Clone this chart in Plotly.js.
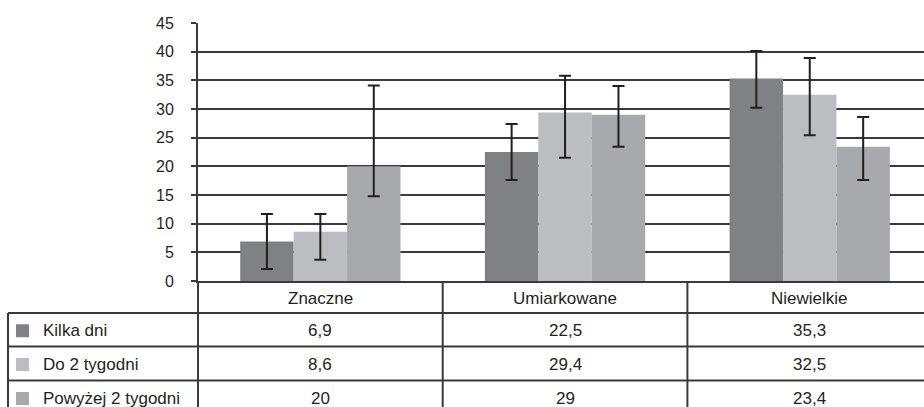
<!DOCTYPE html>
<html><head><meta charset="utf-8">
<script src="https://cdn.plot.ly/plotly-3.0.1.min.js"></script>
<style>html,body{margin:0;padding:0;overflow:hidden;background:#fff}</style>
</head><body><div id="chart" style="width:924px;height:407px"></div>
<script>
// ---- data ----
const categories = ['Znaczne', 'Umiarkowane', 'Niewielkie'];
const seriesNames = ['Kilka dni', 'Do 2 tygodni', 'Powyżej 2 tygodni'];
const kilkaDni = [6.9, 22.5, 35.3];
const do2Tygodni = [8.6, 29.4, 32.5];
const powyzej2Tygodni = [20, 29, 23.4];
const kilkaDniErrPlus = [4.8, 4.9, 4.8];
const kilkaDniErrMinus = [4.8, 4.9, 5.1];
const do2TygodniErrPlus = [3.1, 6.4, 6.4];
const do2TygodniErrMinus = [4.9, 7.9, 7.1];
const powyzejErrPlus = [14.1, 5.0, 5.2];
const powyzejErrMinus = [5.2, 5.6, 5.8];
const yTicks = [0, 5, 10, 15, 20, 25, 30, 35, 40, 45];

// ---- style ----
const colors = ['#808184', '#bcbdc0', '#a7a9ac'];
const lineCol = '#3a3a3a';
const errCol = '#231f20';
const FONT = '"Liberation Sans", Arial, sans-serif';
const W = 924, H = 407, ML = 198, MT = 23, MB = 126;
const plotW = W - ML, plotH = H - MT - MB;
const xr = [-0.5, -0.5 + plotW / 244.7];

const seriesVals = [kilkaDni, do2Tygodni, powyzej2Tygodni];
const errPlus = [kilkaDniErrPlus, do2TygodniErrPlus, powyzejErrPlus];
const errMinus = [kilkaDniErrMinus, do2TygodniErrMinus, powyzejErrMinus];
const xIdx = categories.map((c, i) => i);

const traces = seriesVals.map((vals, s) => ({
  type: 'bar', name: seriesNames[s], x: xIdx, y: vals,
  marker: {color: colors[s], line: {width: 0}},
  error_y: {type: 'data', symmetric: false, array: errPlus[s], arrayminus: errMinus[s],
            color: errCol, thickness: 2, width: 6},
  hoverinfo: 'skip'
}));

// pixel -> paper helpers
const px = v => (v - ML) / plotW;
const py = v => (H - MB - v) / plotH;
const xp = v => (v - xr[0]) / (xr[1] - xr[0]);

const rowEdges = [281, 313, 346.5, 380.5, 414.5]; // header + 3 rows
const shapes = [];
const ln = (x0, y0, x1, y1) => shapes.push({type: 'line', xref: 'paper', yref: 'paper',
  x0: x0, y0: y0, x1: x1, y1: y1, line: {color: lineCol, width: 2}});
// horizontal row lines
for (let r = 1; r < rowEdges.length; r++) ln(px(8), py(rowEdges[r]), 1, py(rowEdges[r]));
// left border of label column
ln(px(8), py(rowEdges[1]), px(8), py(rowEdges[4]));
// category column borders
for (let i = 0; i <= categories.length; i++) {
  const xb = xp(i - 0.5);
  if (xb <= 1.0001) ln(xb, py(rowEdges[0]), xb, py(rowEdges[4]));
}
// legend keys
const annotations = [];
for (let s = 0; s < seriesNames.length; s++) {
  const cy = (rowEdges[s + 1] + rowEdges[s + 2]) / 2;
  shapes.push({type: 'rect', xref: 'paper', yref: 'paper', x0: px(16), x1: px(29),
    y0: py(cy - 5.5), y1: py(cy + 7.5), fillcolor: colors[s], line: {width: 0}});
  annotations.push({xref: 'paper', yref: 'paper', x: px(41), y: py(cy + 1), xanchor: 'left',
    yanchor: 'middle', text: seriesNames[s], showarrow: false,
    font: {family: FONT, size: 17, color: '#231f20'}});
  seriesVals[s].forEach((v, i) => annotations.push({xref: 'x', yref: 'paper', x: i,
    y: py(cy + 1), xanchor: 'center', yanchor: 'middle', text: String(v).replace('.', ','),
    showarrow: false, font: {family: FONT, size: 17, color: '#231f20'}}));
}
categories.forEach((c, i) => annotations.push({xref: 'x', yref: 'paper', x: i,
  y: py((rowEdges[0] + rowEdges[1]) / 2 + 1), xanchor: 'center', yanchor: 'middle', text: c,
  showarrow: false, font: {family: FONT, size: 17, color: '#231f20'}}));

const layout = {
  width: W, height: H,
  margin: {l: ML, r: 0, t: MT, b: MB, pad: 0},
  paper_bgcolor: '#fff', plot_bgcolor: '#fff',
  showlegend: false, barmode: 'group', bargap: 0.345, bargroupgap: 0,
  font: {family: FONT, size: 16, color: '#231f20'},
  xaxis: {range: xr, showticklabels: false, ticks: '', showgrid: false, zeroline: false,
          showline: true, linecolor: lineCol, linewidth: 2, fixedrange: true},
  yaxis: {range: [0, 45], tickvals: yTicks, ticktext: yTicks.map(String), ticks: 'outside',
          ticklen: 5, tickwidth: 2, tickcolor: lineCol, ticklabelstandoff: 14,
          showgrid: true, gridcolor: lineCol, gridwidth: 2, zeroline: false,
          showline: true, linecolor: lineCol, linewidth: 2,
          tickfont: {family: FONT, size: 16, color: '#231f20'}, fixedrange: true},
  shapes: shapes, annotations: annotations
};
Plotly.newPlot('chart', traces, layout, {displayModeBar: false, staticPlot: true});
</script></body></html>
